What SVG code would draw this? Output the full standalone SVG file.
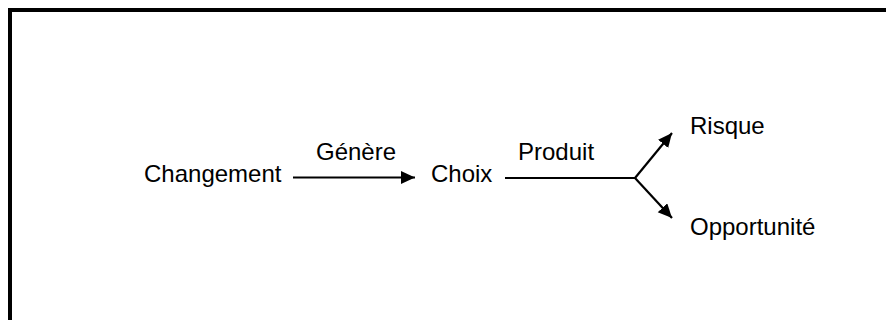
<svg xmlns="http://www.w3.org/2000/svg" width="886" height="320" viewBox="0 0 886 320">
  <style>
    text { font-family: "Liberation Sans", Arial, sans-serif; font-size: 24px; fill: #000; }
    .edge { stroke: #000; stroke-width: 2.2; fill: none; }
  </style>
  <defs>
    <marker id="arrow" markerUnits="userSpaceOnUse" markerWidth="16" markerHeight="14" refX="14" refY="6.5" orient="auto">
      <path d="M0,0 L14,6.5 L0,13 z" fill="#000"/>
    </marker>
  </defs>
  <rect x="0" y="0" width="886" height="320" fill="#fff"/>
  <rect x="10" y="10" width="900" height="400" fill="none" stroke="#000" stroke-width="4"/>

  <g id="node-changement"><text x="144" y="182">Changement</text></g>
  <g id="node-choix"><text x="431" y="182">Choix</text></g>
  <g id="node-risque"><text x="690" y="134">Risque</text></g>
  <g id="node-opportunite"><text x="690" y="235">Opportunité</text></g>

  <g id="connectors">
    <line class="edge" x1="293" y1="177.5" x2="415" y2="177.5" marker-end="url(#arrow)"/>
    <text x="316" y="160">Génère</text>
    <line class="edge" x1="505" y1="178" x2="635" y2="178"/>
    <text x="518" y="160">Produit</text>
    <line class="edge" x1="635" y1="178" x2="672" y2="133" marker-end="url(#arrow)"/>
    <line class="edge" x1="635" y1="178" x2="672" y2="218" marker-end="url(#arrow)"/>
  </g>
</svg>
